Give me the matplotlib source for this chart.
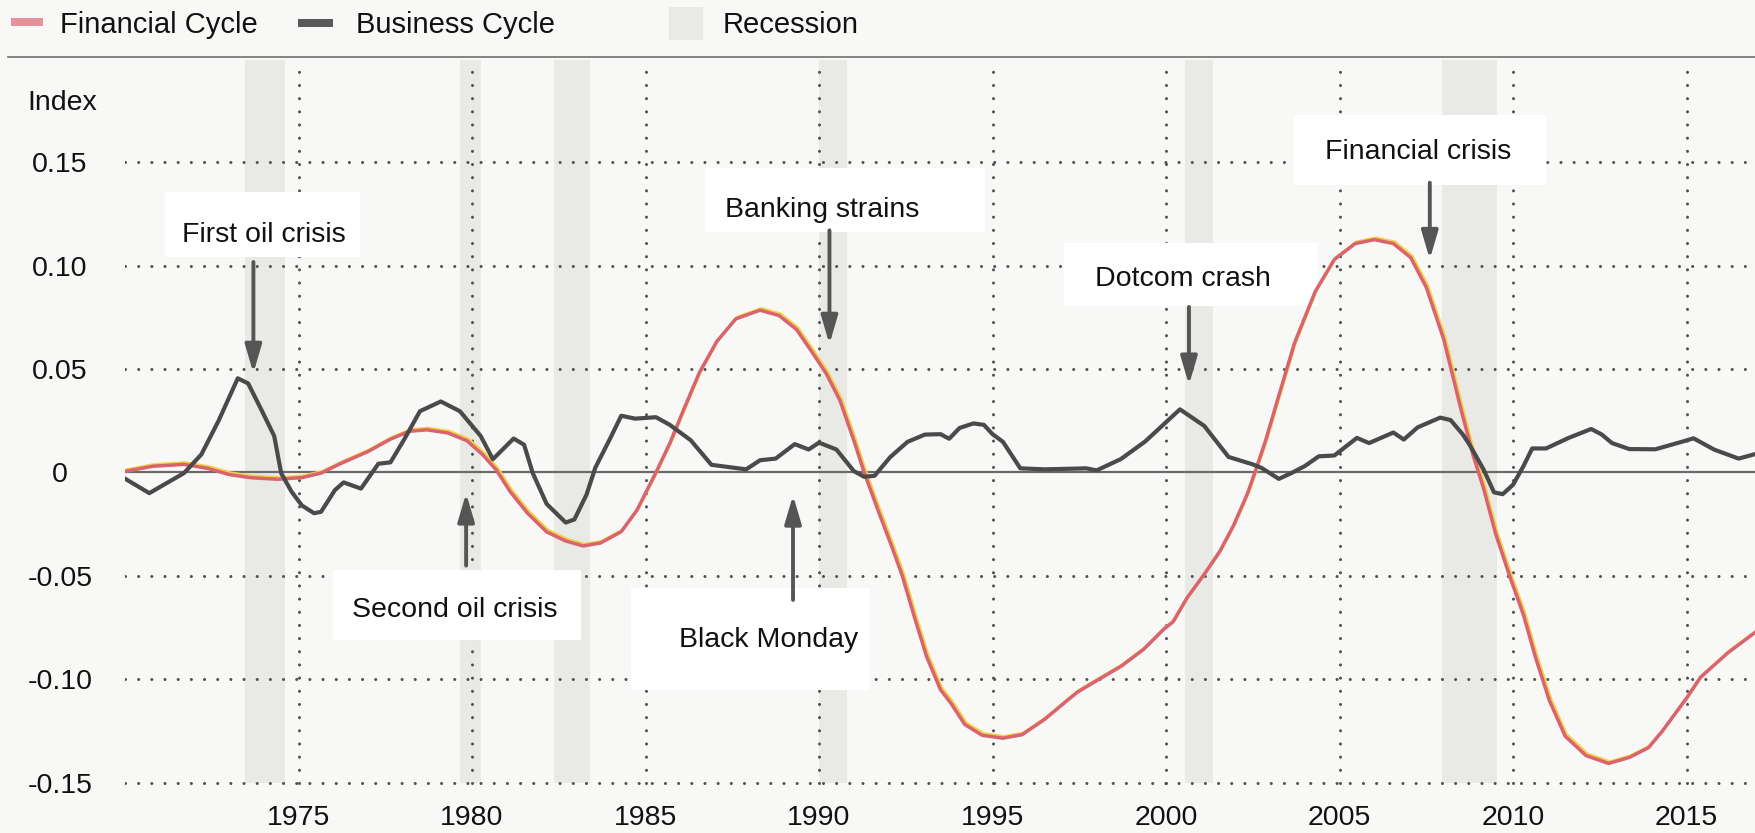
import matplotlib
matplotlib.use('Agg')
import matplotlib.pyplot as plt
import matplotlib.transforms as mtransforms
from matplotlib.patches import Rectangle
from matplotlib.lines import Line2D

plt.rcParams['font.family'] = ['Liberation Sans', 'DejaVu Sans']

# financial cycle (smooth line)
fin_years = [1970.0, 1970.8, 1971.7, 1972.4, 1973.0, 1973.6, 1974.4, 1975.1, 1975.65, 1976.2,
             1977.0, 1977.65, 1978.2, 1978.7, 1979.3, 1979.85, 1980.3, 1980.7, 1981.1, 1981.6,
             1982.15, 1982.7, 1983.2, 1983.7, 1984.3, 1984.75, 1985.3, 1985.7, 1986.1, 1986.55,
             1987.05, 1987.6, 1988.3, 1988.85, 1989.35, 1989.8, 1990.2, 1990.6, 1991.0, 1991.3,
             1991.7, 1992.1, 1992.4, 1992.75, 1993.1, 1993.5, 1993.8, 1994.2, 1994.7, 1995.3,
             1995.85, 1996.5, 1997.15, 1997.45, 1997.95, 1998.7, 1999.35, 1999.95, 2000.2, 2000.6,
             2001.1, 2001.55, 2001.95, 2002.35, 2002.6, 2002.86, 2003.25, 2003.7, 2004.3, 2004.85,
             2005.45, 2006.0, 2006.55, 2007.05, 2007.5, 2008.0, 2008.5, 2008.85, 2009.15, 2009.5,
             2009.9, 2010.3, 2010.65, 2011.05, 2011.5, 2012.1, 2012.75, 2013.35, 2013.9, 2014.3,
             2015.0, 2015.4, 2016.2, 2017.0]
fin_vals = [0.0005, 0.003, 0.0039, 0.0019, -0.001, -0.0025, -0.0033, -0.0025, -0.0003, 0.0042,
            0.0101, 0.0161, 0.0199, 0.0206, 0.0191, 0.0154, 0.0087, 0.0012, -0.0093, -0.0197,
            -0.0287, -0.0331, -0.0355, -0.0341, -0.0286, -0.0183, 0.0, 0.0141, 0.0304, 0.0482,
            0.0632, 0.0742, 0.0784, 0.0758, 0.0691, 0.0581, 0.048, 0.0349, 0.0156, 0.0,
            -0.0183, -0.036, -0.050, -0.070, -0.089, -0.105, -0.1115, -0.1218, -0.127, -0.1284,
            -0.1267, -0.1193, -0.1102, -0.1061, -0.1011, -0.0937, -0.0855, -0.0755, -0.0722, -0.0607,
            -0.0492, -0.0381, -0.0254, -0.010, 0.002, 0.015, 0.0372, 0.0625, 0.0875, 0.1029,
            0.1106, 0.1125, 0.1106, 0.1038, 0.0894, 0.0644, 0.0304, 0.0082, -0.0077, -0.0298,
            -0.05, -0.0689, -0.0896, -0.1104, -0.1274, -0.1368, -0.1406, -0.1377, -0.133, -0.125,
            -0.109, -0.099, -0.087, -0.077]

# business cycle (jagged line)
bus_years = [1970.0, 1970.7, 1971.7, 1972.2, 1972.7, 1973.25, 1973.55, 1973.95, 1974.3, 1974.5,
             1974.8, 1975.1, 1975.45, 1975.65, 1976.05, 1976.3, 1976.8, 1977.3, 1977.65, 1978.05,
             1978.5, 1979.1, 1979.65, 1980.25, 1980.6, 1981.2, 1981.5, 1981.75, 1982.15, 1982.7,
             1982.95, 1983.3, 1983.55, 1984.0, 1984.3, 1984.7, 1985.3, 1985.7, 1986.3, 1986.9,
             1987.9, 1988.3, 1988.75, 1989.3, 1989.7, 1990.0, 1990.5, 1991.0, 1991.3, 1991.6,
             1992.05, 1992.55, 1993.05, 1993.5, 1993.75, 1994.05, 1994.45, 1994.75, 1995.0, 1995.3,
             1995.8, 1996.5, 1997.7, 1998.0, 1998.7, 1999.4, 2000.4, 2001.1, 2001.8, 2002.5,
             2002.75, 2003.25, 2003.6, 2004.0, 2004.4, 2004.85, 2005.5, 2005.85, 2006.55, 2006.85,
             2007.25, 2007.9, 2008.2, 2008.55, 2008.75, 2009.15, 2009.45, 2009.7, 2010.0, 2010.3,
             2010.55, 2010.95, 2011.6, 2012.25, 2012.55, 2012.85, 2013.35, 2014.1, 2014.9, 2015.2,
             2015.8, 2016.5, 2017.0]
bus_vals = [-0.003, -0.010, -0.0003, 0.0087, 0.0251, 0.0455, 0.043, 0.0296, 0.0176, -0.0003,
            -0.0093, -0.016, -0.0197, -0.019, -0.0085, -0.0048, -0.0078, 0.0042, 0.0049, 0.0161,
            0.0296, 0.0343, 0.0296, 0.0176, 0.0064, 0.0164, 0.0134, -0.0003, -0.0152, -0.0242,
            -0.0227, -0.0107, 0.0022, 0.0171, 0.0274, 0.026, 0.0267, 0.023, 0.0156, 0.0037,
            0.0015, 0.0059, 0.0067, 0.0137, 0.0111, 0.0144, 0.0111, 0.0007, -0.0021, -0.0016,
            0.0074, 0.0148, 0.0183, 0.0185, 0.0163, 0.0215, 0.0237, 0.023, 0.0185, 0.0148,
            0.002, 0.0015, 0.002, 0.001, 0.0065, 0.015, 0.0305, 0.0225, 0.0075, 0.0039,
            0.0022, -0.0031, -0.0004, 0.0031, 0.0078, 0.0082, 0.0167, 0.0142, 0.0193, 0.0159,
            0.0218, 0.0265, 0.0253, 0.0184, 0.0133, 0.0014, -0.0096, -0.0105, -0.0059, 0.0031,
            0.0116, 0.0116, 0.0167, 0.021, 0.0184, 0.0142, 0.0113, 0.0112, 0.015, 0.0165,
            0.011, 0.0067, 0.009]

rec_start = [1973.45, 1979.65, 1982.35, 1990.0, 2000.55, 2007.95]
rec_end = [1974.6, 1980.25, 1983.4, 1990.8, 2001.35, 2009.55]

year_ticks = [1975, 1980, 1985, 1990, 1995, 2000, 2005, 2010, 2015]
y_ticks = [0.15, 0.10, 0.05, 0, -0.05, -0.10, -0.15]
y_labels = ['0.15', '0.10', '0.05', '0', '-0.05', '-0.10', '-0.15']

events = ['First oil crisis', 'Second oil crisis', 'Black Monday',
          'Banking strains', 'Dotcom crash', 'Financial crisis']
event_years = [1973.7, 1979.83, 1989.25, 1990.3, 2000.66, 2007.6]

# layout of the annotations: label centre, arrow tail/tip, white knock-out box
ann_layout = [
    dict(tx=1974.0, ty=0.1147, tail=0.1017, tip=0.048, box=(1971.15, 1976.77, 0.1041, 0.1353)),
    dict(tx=1979.5, ty=-0.0664, tail=-0.045, tip=-0.010, box=(1976.0, 1983.14, -0.0809, -0.0471)),
    dict(tx=1988.56, ty=-0.081, tail=-0.0616, tip=-0.011, box=(1984.58, 1991.47, -0.105, -0.0558)),
    dict(tx=1990.09, ty=0.1268, tail=0.117, tip=0.062, box=(1986.71, 1994.78, 0.116, 0.147)),
    dict(tx=2000.49, ty=0.0935, tail=0.080, tip=0.0423, box=(1997.06, 2004.38, 0.0804, 0.1109)),
    dict(tx=2007.26, ty=0.1548, tail=0.140, tip=0.103, box=(2003.69, 2010.95, 0.139, 0.1727)),
]

W, H = 1756, 833
paper = '#f8f8f6'
grid_col = '#505050'
red = '#d9636f'
dark = '#4a4a4a'
rec_col = '#e9e9e5'
fs = 20.5

fig = plt.figure(figsize=(W / 100, H / 100), dpi=100, facecolor=paper)
ax = fig.add_axes([125 / W, 47 / H, 1 - 125 / W, (786 - 60) / H])
ax.set_facecolor('none')
ymax = 0.1993
ax.set_xlim(1970, 2017.0)
ax.set_ylim(-0.1515, ymax)
for s in ax.spines.values():
    s.set_visible(False)

# recession bars
ax.bar([(a + b) / 2 for a, b in zip(rec_start, rec_end)], ymax + 0.15,
       width=[b - a for a, b in zip(rec_start, rec_end)], bottom=-0.15,
       color=rec_col, zorder=1)

# dotted grid (round caps turn the tiny dashes into dots)
dots = (0, (0.01, 4.3))
vl = ax.vlines(year_ticks, -0.15, ymax, colors=grid_col, linestyles=dots, lw=2.2, zorder=2)
hl = ax.hlines([v for v in y_ticks if v != 0], 1970, 2017, colors=grid_col, linestyles=dots,
               lw=2.2, zorder=2)
vl.set_capstyle('round')
hl.set_capstyle('round')

# white boxes behind annotations
for a in ann_layout:
    x0, x1, y0, y1 = a['box']
    ax.add_patch(Rectangle((x0, y0), x1 - x0, y1 - y0, facecolor='white',
                           edgecolor='none', zorder=3))

ax.axhline(0, color='#6a6a6a', lw=1.6, zorder=4)

# misregistered yellow under the red line
shift = mtransforms.offset_copy(ax.transData, fig=fig, x=1.0, y=1.2, units='points')
ax.plot(fin_years, fin_vals, color='#f0d24a', lw=2.2, transform=shift, zorder=5,
        solid_joinstyle='round', solid_capstyle='round')
ax.plot(fin_years, fin_vals, color=red, lw=2.5, zorder=6,
        solid_joinstyle='round', solid_capstyle='round')
ax.plot(bus_years, bus_vals, color=dark, lw=3.0, zorder=7, solid_joinstyle='round')

for name, yr, a in zip(events, event_years, ann_layout):
    ax.annotate('', xy=(yr, a['tip']), xytext=(yr, a['tail']),
                arrowprops=dict(arrowstyle='-|>,head_length=0.85,head_width=0.25',
                                mutation_scale=20, lw=2.8, color='#555555',
                                shrinkA=0, shrinkB=0), zorder=8)
    ax.text(a['tx'], a['ty'], name, ha='center', va='center', fontsize=fs,
            color='#111111', zorder=9)

ax.set_xticks(year_ticks)
ax.set_xticklabels([str(y) for y in year_ticks])
ax.set_yticks(y_ticks)
ax.set_yticklabels(y_labels)
ax.tick_params(axis='both', length=0, labelsize=fs, colors='#111111')
ax.tick_params(axis='y', pad=46.8)
ax.tick_params(axis='x', pad=14)
for t in ax.get_yticklabels():
    t.set_horizontalalignment('center')

# header: legend, rule and unit
def fx(px):
    return px / W

def fy(py):
    return 1 - py / H

fig.patches.append(Rectangle((fx(11), fy(26)), fx(32), 8 / H, transform=fig.transFigure,
                             facecolor='#e5919a', edgecolor='none'))
fig.text(fx(60), fy(25), 'Financial Cycle', fontsize=21, va='center', ha='left', color='#111111')
fig.patches.append(Rectangle((fx(298), fy(27)), fx(35), 8 / H, transform=fig.transFigure,
                             facecolor='#5a5a5a', edgecolor='none'))
fig.text(fx(356), fy(25), 'Business Cycle', fontsize=21, va='center', ha='left', color='#111111')
fig.patches.append(Rectangle((fx(669), fy(40)), fx(34), 33 / H, transform=fig.transFigure,
                             facecolor=rec_col, edgecolor='none'))
fig.text(fx(723), fy(25), 'Recession', fontsize=21, va='center', ha='left', color='#111111')
fig.add_artist(Line2D([fx(8), 1], [fy(57), fy(57)], color='#707070', lw=1.2))
fig.text(fx(62), fy(103), 'Index', fontsize=fs, va='center', ha='center', color='#111111')

fig.savefig('out.png', dpi=100, facecolor=paper)
